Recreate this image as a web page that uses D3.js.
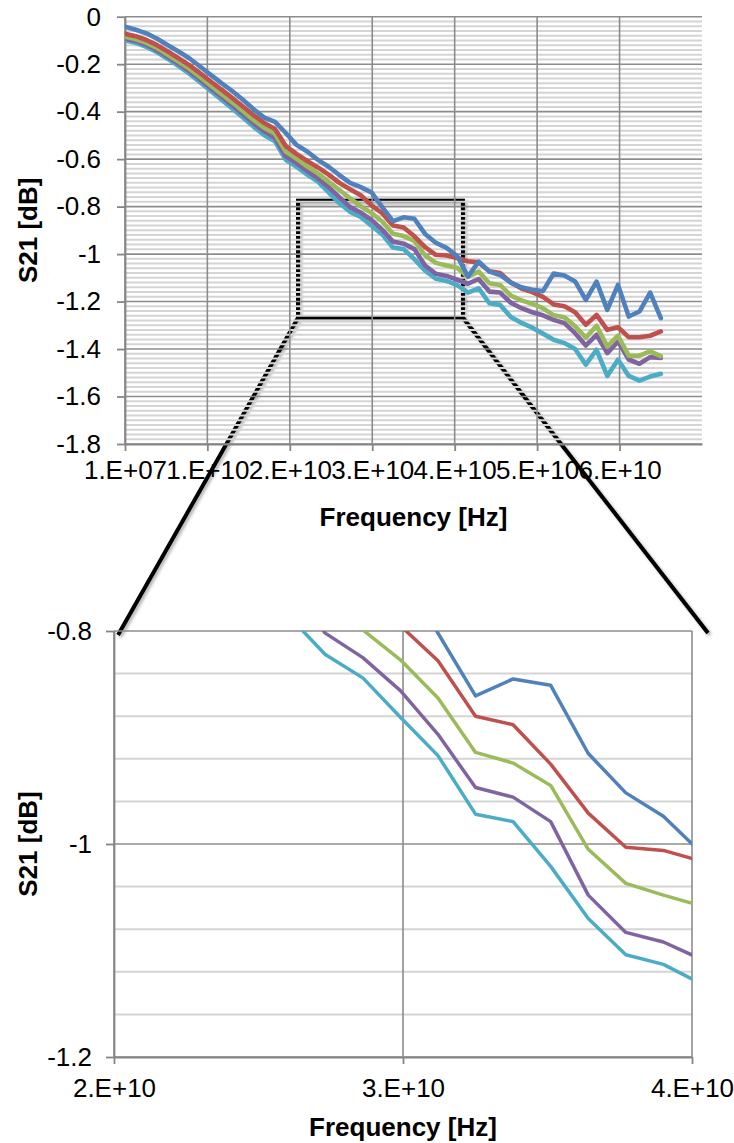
<!DOCTYPE html>
<html>
<head>
<meta charset="utf-8">
<script src="https://cdn.jsdelivr.net/npm/d3@7"></script>
<style>
  html, body { margin: 0; padding: 0; background: #fff; }
  svg { display: block; }
  text { font-family: "Liberation Sans", Arial, sans-serif; fill: #000; }
</style>
</head>
<body>
<svg id="chart" width="734" height="1143"></svg>
<script>
// Sweep frequencies (GHz)
const freqGHz = [0.01, 1.31, 2.61, 3.91, 5.21, 6.51, 7.81, 9.11, 10.41, 11.71,
  13.01, 14.31, 15.61, 16.91, 18.21, 19.51, 20.81, 22.11, 23.41, 24.71,
  26.01, 27.31, 28.61, 29.91, 31.21, 32.51, 33.81, 35.11, 36.41, 37.71,
  39.01, 40.31, 41.61, 42.91, 44.21, 45.51, 46.81, 48.11, 49.41, 50.71,
  52.01, 53.31, 54.61, 55.91, 57.21, 58.51, 59.81, 61.11, 62.41, 63.71, 65.01];

// S21 [dB] for the five traces
const s21Blue = [-0.042, -0.055, -0.070, -0.093, -0.120, -0.147, -0.175, -0.210, -0.245, -0.280,
  -0.313, -0.350, -0.390, -0.425, -0.443, -0.490, -0.540, -0.568, -0.603, -0.632,
  -0.667, -0.700, -0.718, -0.740, -0.802, -0.861, -0.845, -0.851, -0.915, -0.952,
  -0.974, -1.008, -1.095, -1.032, -1.074, -1.088, -1.120, -1.140, -1.150, -1.156,
  -1.082, -1.090, -1.115, -1.193, -1.116, -1.235, -1.130, -1.263, -1.242, -1.162, -1.270];
const s21Red = [-0.072, -0.082, -0.098, -0.120, -0.147, -0.175, -0.204, -0.238, -0.273, -0.307,
  -0.342, -0.378, -0.415, -0.448, -0.473, -0.545, -0.578, -0.608, -0.635, -0.665,
  -0.700, -0.727, -0.752, -0.795, -0.828, -0.880, -0.888, -0.925, -0.971, -1.003,
  -1.006, -1.016, -1.030, -1.035, -1.072, -1.080, -1.120, -1.145, -1.160, -1.180,
  -1.212, -1.220, -1.245, -1.298, -1.256, -1.319, -1.308, -1.350, -1.350, -1.344, -1.326];
const s21Green = [-0.084, -0.094, -0.110, -0.132, -0.160, -0.189, -0.219, -0.254, -0.290, -0.325,
  -0.360, -0.397, -0.435, -0.468, -0.493, -0.568, -0.598, -0.630, -0.660, -0.695,
  -0.730, -0.765, -0.799, -0.827, -0.863, -0.914, -0.924, -0.945, -1.005, -1.037,
  -1.048, -1.058, -1.095, -1.074, -1.123, -1.130, -1.175, -1.195, -1.210, -1.228,
  -1.258, -1.266, -1.304, -1.352, -1.302, -1.389, -1.344, -1.428, -1.428, -1.410, -1.430];
const s21Purple = [-0.092, -0.102, -0.118, -0.141, -0.169, -0.198, -0.229, -0.264, -0.301, -0.337,
  -0.373, -0.410, -0.449, -0.483, -0.510, -0.588, -0.617, -0.650, -0.680, -0.718,
  -0.760, -0.802, -0.825, -0.856, -0.897, -0.947, -0.956, -0.979, -1.048, -1.083,
  -1.092, -1.108, -1.125, -1.105, -1.158, -1.162, -1.205, -1.228, -1.245, -1.258,
  -1.277, -1.291, -1.333, -1.385, -1.340, -1.417, -1.368, -1.444, -1.462, -1.434, -1.438];
const s21Cyan = [-0.100, -0.110, -0.127, -0.150, -0.178, -0.208, -0.240, -0.276, -0.313, -0.350,
  -0.387, -0.425, -0.464, -0.499, -0.525, -0.603, -0.632, -0.665, -0.695, -0.740,
  -0.785, -0.822, -0.844, -0.881, -0.917, -0.972, -0.979, -1.021, -1.070, -1.104,
  -1.113, -1.131, -1.162, -1.144, -1.207, -1.214, -1.265, -1.290, -1.310, -1.335,
  -1.361, -1.375, -1.400, -1.466, -1.403, -1.513, -1.445, -1.513, -1.533, -1.516, -1.504];

const seriesValues = [s21Blue, s21Red, s21Green, s21Purple, s21Cyan];
const seriesColors = ["#4F81BD", "#C0504D", "#9BBB59", "#8064A2", "#4BACC6"];

// Axis labels
const xTickLabelsFull = ["1.E+07", "1.E+10", "2.E+10", "3.E+10", "4.E+10", "5.E+10", "6.E+10"];
const yTickLabelsFull = ["0", "-0.2", "-0.4", "-0.6", "-0.8", "-1", "-1.2", "-1.4", "-1.6", "-1.8"];
const xTickLabelsZoom = ["2.E+10", "3.E+10", "4.E+10"];
const yTickLabelsZoom = ["-0.8", "-1", "-1.2"];
const xTitle = "Frequency [Hz]";
const yTitle = "S21 [dB]";

// Zoomed window shown in the lower panel
const zoomFreq = [2.0e10, 4.0e10];
const zoomS21 = [-1.2, -0.8];
// Frame drawn around that window on the upper panel
const frameFreq = [2.1e10, 4.1e10];
const frameS21 = [-1.268, -0.775];

const svg = d3.select("#chart");
const defs = svg.append("defs");
const shadow = defs.append("filter").attr("id", "shadow")
  .attr("x", "-20%").attr("y", "-20%").attr("width", "140%").attr("height", "140%");
shadow.append("feDropShadow").attr("dx", 2).attr("dy", 2)
  .attr("stdDeviation", 1.5).attr("flood-color", "#000").attr("flood-opacity", 0.3);

const overlayLayer = svg.append("g");
const chartLayer = svg.append("g");

function buildPanel(o) {
  const x = d3.scaleLinear().domain(o.xDomain).range([o.left, o.right]);
  const y = d3.scaleLinear().domain(o.yDomain).range([o.bottom, o.top]);
  return { x, y, o };
}

function drawPanel(p, id) {
  const { x, y, o } = p;
  const g = chartLayer.append("g");
  const yTicks = o.yLabels.map(Number);
  const xTicks = o.xLabels.map(Number);

  // minor horizontal gridlines
  const minor = d3.range(Math.round((o.yDomain[1] - o.yDomain[0]) / o.minorStep) + 1)
    .map(i => o.yDomain[0] + i * o.minorStep)
    .filter(v => !yTicks.some(t => Math.abs(t - v) < 1e-9));
  g.append("g").selectAll("line").data(minor).join("line")
    .attr("x1", o.left).attr("x2", o.right)
    .attr("y1", d => y(d)).attr("y2", d => y(d))
    .attr("stroke", "#d4d4d4").attr("stroke-width", 2);

  // major horizontal gridlines
  g.append("g").selectAll("line").data(yTicks).join("line")
    .attr("x1", o.left).attr("x2", o.right)
    .attr("y1", d => y(d)).attr("y2", d => y(d))
    .attr("stroke", "#8c8c8c").attr("stroke-width", 1.6);

  // vertical gridlines
  g.append("g").selectAll("line").data(xTicks).join("line")
    .attr("x1", d => x(d)).attr("x2", d => x(d))
    .attr("y1", o.top).attr("y2", o.bottom)
    .attr("stroke", "#8c8c8c").attr("stroke-width", 1.6);

  // axes
  const yAxis = d3.axisLeft(y).tickValues(yTicks)
    .tickFormat((d, i) => o.yLabels[i]).tickSize(8).tickSizeOuter(0).tickPadding(o.yPad);
  const xAxis = d3.axisBottom(x).tickValues(xTicks)
    .tickFormat((d, i) => o.xLabels[i]).tickSize(7).tickSizeOuter(0).tickPadding(o.xPad);

  const ya = g.append("g").attr("transform", `translate(${o.left},0)`).call(yAxis);
  const xa = g.append("g").attr("transform", `translate(0,${o.bottom})`).call(xAxis);
  [ya, xa].forEach(a => {
    a.select(".domain").attr("stroke", "#868686").attr("stroke-width", 1.8);
    a.selectAll(".tick line").attr("stroke", "#868686").attr("stroke-width", 1.8);
    a.selectAll(".tick text").attr("font-size", o.tickFont)
      .attr("font-family", "Liberation Sans, Arial, sans-serif").attr("fill", "#000");
  });

  // axis titles
  g.append("text").attr("x", (o.left + o.right) / 2).attr("y", o.xTitleY)
    .attr("text-anchor", "middle").attr("dominant-baseline", "central")
    .attr("font-size", o.titleFont).attr("font-weight", "bold").text(xTitle);
  g.append("text")
    .attr("transform", `translate(${o.yTitleX},${(o.top + o.bottom) / 2}) rotate(-90)`)
    .attr("text-anchor", "middle").attr("dominant-baseline", "central")
    .attr("font-size", o.titleFont).attr("font-weight", "bold").text(yTitle);

  // traces
  defs.append("clipPath").attr("id", id)
    .append("rect").attr("x", o.left).attr("y", o.top)
    .attr("width", o.right - o.left).attr("height", o.bottom - o.top);
  const line = d3.line().x((d, i) => x(freqGHz[i] * 1e9)).y(d => y(d));
  const order = [4, 3, 2, 1, 0];
  g.append("g").attr("clip-path", `url(#${id})`)
    .selectAll("path").data(order).join("path")
    .attr("d", k => line(seriesValues[k]))
    .attr("fill", "none").attr("stroke", k => seriesColors[k])
    .attr("stroke-width", o.lineWidth)
    .attr("stroke-linejoin", "round").attr("stroke-linecap", "round");
}

const full = buildPanel({
  xDomain: [1e7, 7e10], yDomain: [-1.8, 0],
  left: 125, right: 702, top: 16.7, bottom: 444,
  xLabels: xTickLabelsFull, yLabels: yTickLabelsFull, minorStep: 0.02,
  yPad: 16, xPad: 10, tickFont: 26, titleFont: 26,
  xTitleY: 517, yTitleX: 28, lineWidth: 4.6
});
const zoom = buildPanel({
  xDomain: zoomFreq, yDomain: zoomS21,
  left: 114, right: 692, top: 631, bottom: 1057,
  xLabels: xTickLabelsZoom, yLabels: yTickLabelsZoom, minorStep: 0.04,
  yPad: 14, xPad: 15, tickFont: 26, titleFont: 26,
  xTitleY: 1127, yTitleX: 28, lineWidth: 3.5
});

// frame and connector lines, drawn beneath the gridlines
const fx0 = full.x(frameFreq[0]), fx1 = full.x(frameFreq[1]);
const fy0 = full.y(frameS21[1]), fy1 = full.y(frameS21[0]);
const ov = overlayLayer.append("g").attr("filter", "url(#shadow)");
ov.append("rect").attr("x", fx0).attr("y", fy0)
  .attr("width", fx1 - fx0).attr("height", fy1 - fy0)
  .attr("fill", "none").attr("stroke", "#000").attr("stroke-width", 4);
ov.append("line")
  .attr("x1", fx0).attr("y1", fy1)
  .attr("x2", zoom.x(zoomFreq[0]) + 4).attr("y2", zoom.y(zoomS21[1]) + 4)
  .attr("stroke", "#000").attr("stroke-width", 4);
ov.append("line")
  .attr("x1", fx1).attr("y1", fy1)
  .attr("x2", zoom.x(zoomFreq[1]) + 16).attr("y2", zoom.y(zoomS21[1]) + 2)
  .attr("stroke", "#000").attr("stroke-width", 4);

drawPanel(full, "clipFull");
drawPanel(zoom, "clipZoom");
</script>
</body>
</html>
